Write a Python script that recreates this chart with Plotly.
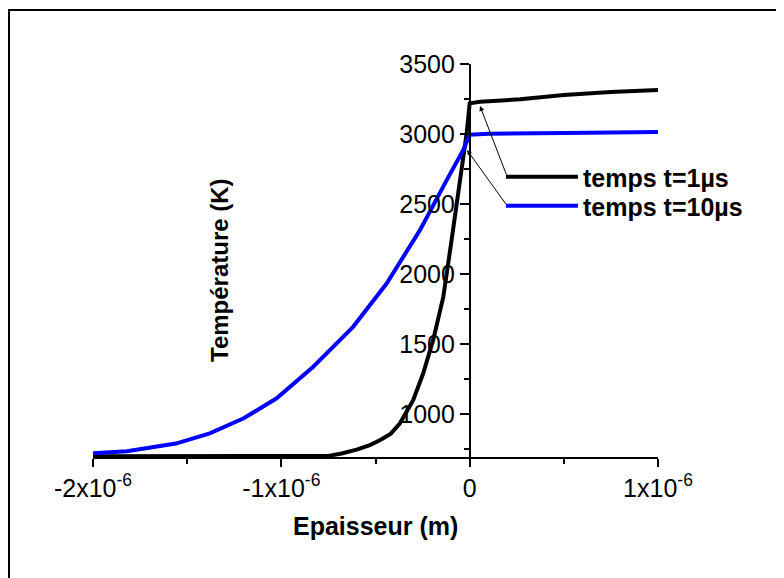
import plotly.graph_objects as go

# ---- data (x in units of 1e-6 m) ----
x_1us = [-2.0, -1.0, -0.85, -0.75, -0.68, -0.6, -0.53, -0.477, -0.42, -0.371, -0.30, -0.247,
         -0.194, -0.140, -0.096, -0.052, -0.016, 0.0, 0.055, 0.268, 0.5, 0.75, 1.0]
T_1us = [700, 700, 700, 703, 720, 748, 780, 814, 860, 934, 1100, 1291,
         1529, 1838, 2243, 2671, 3005, 3219, 3231, 3248, 3279, 3300, 3314]

x_10us = [-2.0, -1.82, -1.56, -1.38, -1.2, -1.025, -0.832, -0.619, -0.441, -0.264,
          -0.122, -0.034, 0.0, 0.1, 0.5, 1.0]
T_10us = [721, 736, 791, 864, 971, 1114, 1338, 1624, 1933, 2314,
          2671, 2886, 2995, 3003, 3008, 3014]

series_names = ["temps t=1µs", "temps t=10µs"]
x_tickvals = [-2e-6, -1e-6, 0, 1e-6]
x_ticktext = ["-2x10<sup>-6</sup>", "-1x10<sup>-6</sup>", "0", "1x10<sup>-6</sup>"]
y_tickvals = [1000, 1500, 2000, 2500, 3000, 3500]
x_title = "Epaisseur (m)"
y_title = "Température (K)"

# arrow annotations: (head x, head y, tail x, tail y), x in 1e-6 m
arrow_1us = (0.055, 3200, 0.198, 2700)
arrow_10us = (-0.014, 2886, 0.198, 2490)

XMIN, XMAX = -2e-6, 1e-6
YMIN, YMAX = 695, 3500

OFF = 8  # page body margin
W, H = 784 - OFF, 578 - OFF
ML, MR, MT, MB = 85, 126, 56, 121
PW, PH = W - ML - MR, H - MT - MB

FONT = "Arial, Liberation Sans, sans-serif"


def px_x(px):
    """window pixel -> paper x"""
    return (px - OFF - ML) / PW


def px_y(py):
    """window pixel -> paper y"""
    return (H - MB - (py - OFF)) / PH


fig = go.Figure()
fig.add_trace(go.Scatter(x=[v * 1e-6 for v in x_1us], y=T_1us, mode="lines",
                         name=series_names[0], line=dict(color="black", width=4),
                         legend="legend"))
fig.add_trace(go.Scatter(x=[v * 1e-6 for v in x_10us], y=T_10us, mode="lines",
                         name=series_names[1], line=dict(color="#0000ff", width=4),
                         legend="legend2"))

annotations = [
    dict(text=f"<b>{x_title}</b>", x=px_x(375), y=px_y(526), xref="paper", yref="paper",
         xanchor="center", yanchor="middle",
         showarrow=False, font=dict(size=25, family=FONT, color="black")),
    dict(text=f"<b>{y_title}</b>", x=px_x(219), y=px_y(270), xref="paper", yref="paper",
         xanchor="center", yanchor="middle",
         showarrow=False, textangle=-90, font=dict(size=24, family=FONT, color="black")),
]
for hx, hy, tx, ty in (arrow_1us, arrow_10us):
    annotations.append(dict(x=hx * 1e-6, y=hy, ax=tx * 1e-6, ay=ty, xref="x", yref="y",
                            axref="x", ayref="y", text="", showarrow=True,
                            arrowhead=2, arrowsize=1, arrowwidth=1, arrowcolor="black"))

legend_style = dict(xanchor="left", yanchor="top", bgcolor="rgba(0,0,0,0)",
                    borderwidth=0, itemwidth=72,
                    font=dict(size=25, family=FONT, color="black", weight="bold"))

fig.update_layout(
    width=W, height=H,
    margin=dict(l=ML, r=MR, t=MT, b=MB, pad=0),
    paper_bgcolor="white", plot_bgcolor="white",
    font=dict(family=FONT, color="black", size=25),
    showlegend=True,
    legend=dict(x=px_x(501), y=px_y(154), **legend_style),
    legend2=dict(x=px_x(501), y=px_y(183), **legend_style),
    xaxis=dict(range=[XMIN, XMAX], showgrid=False, zeroline=False, showline=True,
               linecolor="black", linewidth=1.5, ticks="outside", ticklen=8,
               tickwidth=1.5, tickcolor="black", tickvals=x_tickvals, ticktext=x_ticktext,
               tickfont=dict(size=25, family=FONT, color="black"),
               minor=dict(ticks="outside", ticklen=5, tickwidth=1.5, tickcolor="black",
                          dtick=0.5e-6, showgrid=False)),
    yaxis=dict(range=[YMIN, YMAX], showgrid=False, zeroline=False, showline=True,
               anchor="free", position=(0 - XMIN) / (XMAX - XMIN),
               linecolor="black", linewidth=1.5, ticks="outside", ticklen=9,
               tickwidth=1.5, tickcolor="black", tickvals=y_tickvals,
               tickfont=dict(size=25, family=FONT, color="black"),
               minor=dict(ticks="outside", ticklen=5, tickwidth=1.5, tickcolor="black",
                          tick0=750, dtick=250, showgrid=False)),
    annotations=annotations,
    shapes=[dict(type="rect", xref="paper", yref="paper",
                 x0=px_x(9), x1=px_x(800), y0=px_y(600), y1=px_y(10),
                 line=dict(color="black", width=2), fillcolor="rgba(0,0,0,0)", layer="below")],
)

fig.write_html("out.html")
